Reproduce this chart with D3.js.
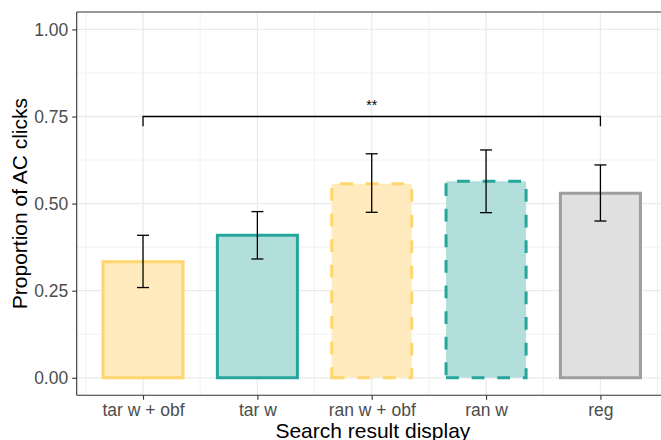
<!DOCTYPE html>
<html>
<head>
<meta charset="utf-8">
<script src="https://cdn.jsdelivr.net/npm/d3@7"></script>
<style>
  html, body { margin: 0; padding: 0; background: #fff; }
  svg { display: block; font-family: "Liberation Sans", Arial, Helvetica, sans-serif; }
</style>
</head>
<body>
<svg id="chart" width="661" height="440"></svg>
<script>
// Proportion of AC clicks per search result display condition
const categories = ["tar w + obf", "tar w", "ran w + obf", "ran w", "reg"];
const proportion = [0.333, 0.409, 0.557, 0.564, 0.530];
const ciLower    = [0.259, 0.341, 0.475, 0.474, 0.450];
const ciUpper    = [0.409, 0.477, 0.643, 0.654, 0.611];
const fillColors   = ["#FFEBBD", "#B2DFDB", "#FFEBBD", "#B2DFDB", "#E0E0E0"];
const strokeColors = ["#FFD66E", "#26A69A", "#FFD66E", "#26A69A", "#9E9E9E"];
const dashedOutline = [false, false, true, true, false];
const yTicks = [0, 0.25, 0.5, 0.75, 1.0];
const yMinorTicks = [0.125, 0.375, 0.625, 0.875];
// significance bracket between first and last condition
const bracket = { from: "tar w + obf", to: "reg", y: 0.75, drop: 0.028, label: "**" };

const svg = d3.select("#chart");
const panel = { left: 76.7, top: 12, bottom: 395.2 };
const step = 114.35;

// x: discrete categories laid out on a continuous index scale
const x = d3.scaleLinear()
  .domain([-0.58, categories.length - 1 + 0.6])
  .range([panel.left, panel.left + step * (categories.length - 1 + 1.18)]);
const xc = name => x(categories.indexOf(name));
const y = d3.scaleLinear().domain([-0.05, 1.05]).range([panel.bottom, panel.top]);

const panelRight = x.range()[1];

const g = svg.append("g");

// grid
const minorX = d3.range(-0.5, categories.length, 1);
g.selectAll(".gx-minor").data(minorX).join("line")
  .attr("x1", d => x(d)).attr("x2", d => x(d))
  .attr("y1", panel.top).attr("y2", panel.bottom)
  .attr("stroke", "#F2F2F2").attr("stroke-width", 1);
g.selectAll(".gy-minor").data(yMinorTicks).join("line")
  .attr("x1", panel.left).attr("x2", panelRight)
  .attr("y1", d => y(d)).attr("y2", d => y(d))
  .attr("stroke", "#F2F2F2").attr("stroke-width", 1);
g.selectAll(".gx-major").data(categories).join("line")
  .attr("x1", d => xc(d)).attr("x2", d => xc(d))
  .attr("y1", panel.top).attr("y2", panel.bottom)
  .attr("stroke", "#EBEBEB").attr("stroke-width", 1.3);
g.selectAll(".gy-major").data(yTicks).join("line")
  .attr("x1", panel.left).attr("x2", panelRight)
  .attr("y1", d => y(d)).attr("y2", d => y(d))
  .attr("stroke", "#EBEBEB").attr("stroke-width", 1.3);

// bars
const barW = 0.7 * step;
const bars = categories.map((c, i) => ({
  c, v: proportion[i], fill: fillColors[i], stroke: strokeColors[i], dashed: dashedOutline[i]
}));
// outline drawn as a path from bottom-left so dash phase starts at that corner
g.selectAll(".bar").data(bars).join("path")
  .attr("d", d => {
    const x0 = xc(d.c) - barW / 2, x1 = xc(d.c) + barW / 2;
    const y0 = y(0), y1 = y(d.v);
    return `M${x0},${y0}L${x1},${y0}L${x1},${y1}L${x0},${y1}Z`;
  })
  .attr("fill", d => d.fill)
  .attr("stroke", d => d.stroke)
  .attr("stroke-width", 3)
  .attr("stroke-dasharray", d => d.dashed ? "12.8,12.8" : null);

// error bars
const capW = 12;
const errs = categories.map((c, i) => ({ c, lo: ciLower[i], hi: ciUpper[i] }));
const eg = g.selectAll(".err").data(errs).join("g");
eg.append("line")
  .attr("x1", d => xc(d.c)).attr("x2", d => xc(d.c))
  .attr("y1", d => y(d.lo)).attr("y2", d => y(d.hi))
  .attr("stroke", "#000").attr("stroke-width", 1.3);
eg.append("line")
  .attr("x1", d => xc(d.c) - capW / 2).attr("x2", d => xc(d.c) + capW / 2)
  .attr("y1", d => y(d.hi)).attr("y2", d => y(d.hi))
  .attr("stroke", "#000").attr("stroke-width", 1.3);
eg.append("line")
  .attr("x1", d => xc(d.c) - capW / 2).attr("x2", d => xc(d.c) + capW / 2)
  .attr("y1", d => y(d.lo)).attr("y2", d => y(d.lo))
  .attr("stroke", "#000").attr("stroke-width", 1.3);

// significance bracket
const bx0 = xc(bracket.from), bx1 = xc(bracket.to);
g.append("path")
  .attr("d", `M${bx0},${y(bracket.y - bracket.drop)}L${bx0},${y(bracket.y)}L${bx1},${y(bracket.y)}L${bx1},${y(bracket.y - bracket.drop)}`)
  .attr("fill", "none").attr("stroke", "#000").attr("stroke-width", 1.3);
g.append("text")
  .attr("x", (bx0 + bx1) / 2).attr("y", y(bracket.y) - 6.7)
  .attr("text-anchor", "middle").attr("font-size", 14).attr("fill", "#000")
  .text(bracket.label);

// panel border (top and left) and axes
g.append("line").attr("x1", panel.left).attr("x2", panelRight)
  .attr("y1", panel.top).attr("y2", panel.top)
  .attr("stroke", "#333").attr("stroke-width", 1.1);

const yAxis = d3.axisLeft(y).tickValues(yTicks).tickFormat(d3.format(".2f")).tickSize(4.5).tickPadding(4);
const ya = svg.append("g").attr("transform", `translate(${panel.left},0)`).call(yAxis);
ya.select(".domain").attr("d", `M0,${panel.top}V${panel.bottom}`).attr("stroke", "#333").attr("stroke-width", 1.1);
ya.selectAll(".tick line").attr("stroke", "#333").attr("stroke-width", 1.1);
ya.selectAll(".tick text").attr("fill", "#4D4D4D").attr("font-size", 17.5)
  .attr("font-family", "Liberation Sans, Arial, sans-serif");

const xAxis = d3.axisBottom(x).tickValues(d3.range(categories.length))
  .tickFormat(i => categories[i]).tickSize(4.5).tickPadding(4);
const xa = svg.append("g").attr("transform", `translate(0,${panel.bottom})`).call(xAxis);
xa.select(".domain").attr("d", `M${panel.left},0H${panelRight}`).attr("stroke", "#333").attr("stroke-width", 1.1);
xa.selectAll(".tick line").attr("stroke", "#333").attr("stroke-width", 1.1);
xa.selectAll(".tick text").attr("fill", "#4D4D4D").attr("font-size", 17.5)
  .attr("font-family", "Liberation Sans, Arial, sans-serif");

// axis titles
svg.append("text")
  .attr("x", (panel.left + panelRight) / 2).attr("y", 437.5)
  .attr("text-anchor", "middle").attr("font-size", 21).attr("fill", "#000")
  .text("Search result display");
svg.append("text")
  .attr("transform", `translate(26.5,${(panel.top + panel.bottom) / 2}) rotate(-90)`)
  .attr("text-anchor", "middle").attr("font-size", 21).attr("fill", "#000")
  .text("Proportion of AC clicks");
</script>
</body>
</html>
